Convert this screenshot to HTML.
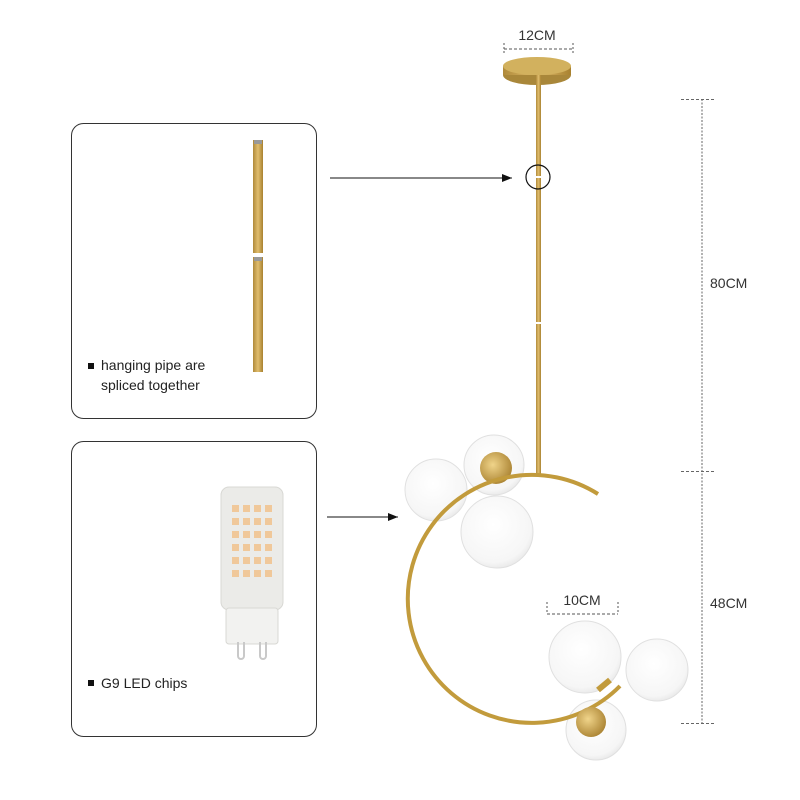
<!DOCTYPE html>
<html><head><style>
html,body{margin:0;padding:0;background:#fff;width:800px;height:800px;overflow:hidden}
text{font-family:"Liberation Sans",sans-serif}
</style></head><body>
<svg width="800" height="800" viewBox="0 0 800 800" xmlns="http://www.w3.org/2000/svg">
<defs>
<linearGradient id="brass" x1="0" x2="1"><stop offset="0" stop-color="#b08a3a"/><stop offset="0.5" stop-color="#e0bd6e"/><stop offset="1" stop-color="#a8812f"/></linearGradient>
<radialGradient id="glob" cx="0.45" cy="0.4" r="0.65"><stop offset="0" stop-color="#ffffff"/><stop offset="0.8" stop-color="#f6f6f6"/><stop offset="1" stop-color="#e4e4e4"/></radialGradient>
<radialGradient id="cup" cx="0.4" cy="0.4" r="0.7"><stop offset="0" stop-color="#f0d48a"/><stop offset="1" stop-color="#a57d2c"/></radialGradient>
<marker id="ar" markerWidth="10" markerHeight="8" refX="10" refY="4" orient="auto"><path d="M0,0 L10,4 L0,8 z" fill="#111"/></marker>
</defs>
<rect x="71.5" y="123.5" width="245" height="295" rx="12" fill="#fff" stroke="#333" stroke-width="1"/>
<rect x="71.5" y="441.5" width="245" height="295" rx="12" fill="#fff" stroke="#333" stroke-width="1"/>
<rect x="253" y="140" width="10" height="113" fill="url(#brass)"/>
<rect x="254" y="140" width="8" height="4" fill="#999"/>
<rect x="253" y="257" width="10" height="115" fill="url(#brass)"/>
<rect x="254" y="257" width="8" height="4" fill="#999"/>
<rect x="88" y="363" width="6" height="6" fill="#111"/>
<text x="101" y="370" font-size="14" fill="#222">hanging pipe are</text>
<text x="101" y="390" font-size="14" fill="#222">spliced together</text>
<rect x="221" y="487" width="62" height="123" rx="8" fill="#ebebe8" stroke="#d8d8d4"/>
<g fill="#f0c89a">
<rect x="232" y="505" width="7" height="7"/><rect x="243" y="505" width="7" height="7"/><rect x="254" y="505" width="7" height="7"/><rect x="265" y="505" width="7" height="7"/>
<rect x="232" y="518" width="7" height="7"/><rect x="243" y="518" width="7" height="7"/><rect x="254" y="518" width="7" height="7"/><rect x="265" y="518" width="7" height="7"/>
<rect x="232" y="531" width="7" height="7"/><rect x="243" y="531" width="7" height="7"/><rect x="254" y="531" width="7" height="7"/><rect x="265" y="531" width="7" height="7"/>
<rect x="232" y="544" width="7" height="7"/><rect x="243" y="544" width="7" height="7"/><rect x="254" y="544" width="7" height="7"/><rect x="265" y="544" width="7" height="7"/>
<rect x="232" y="557" width="7" height="7"/><rect x="243" y="557" width="7" height="7"/><rect x="254" y="557" width="7" height="7"/><rect x="265" y="557" width="7" height="7"/>
<rect x="232" y="570" width="7" height="7"/><rect x="243" y="570" width="7" height="7"/><rect x="254" y="570" width="7" height="7"/><rect x="265" y="570" width="7" height="7"/>
</g>
<rect x="226" y="608" width="52" height="36" rx="3" fill="#f2f2f0" stroke="#d8d8d4"/>
<path d="M238,642 v14 a3,3 0 0 0 6,0 v-14 M260,642 v14 a3,3 0 0 0 6,0 v-14" fill="none" stroke="#c9c9c9" stroke-width="2"/>
<rect x="88" y="680" width="6" height="6" fill="#111"/>
<text x="101" y="688" font-size="14" fill="#222">G9 LED chips</text>
<line x1="330" y1="178" x2="512" y2="178" stroke="#111" stroke-width="1" marker-end="url(#ar)"/>
<line x1="327" y1="517" x2="398" y2="517" stroke="#111" stroke-width="1" marker-end="url(#ar)"/>
<text x="537" y="40" font-size="14" fill="#333" text-anchor="middle">12CM</text>
<path d="M504,43 v12 M573,43 v12" stroke="#555" stroke-dasharray="2,2"/>
<line x1="504" y1="49" x2="573" y2="49" stroke="#555" stroke-dasharray="3,2"/>
<ellipse cx="537" cy="75" rx="34" ry="10" fill="#a9873a"/>
<rect x="503" y="66" width="68" height="9" fill="url(#brass)"/>
<ellipse cx="537" cy="66" rx="34" ry="9" fill="#d2b15e"/>
<rect x="536" y="75" width="5" height="400" fill="url(#brass)"/>
<rect x="534" y="322" width="9" height="2" fill="#fff"/>
<circle cx="538" cy="177" r="12" fill="none" stroke="#111" stroke-width="1.2"/>
<rect x="532" y="176" width="10" height="2" fill="#fff"/>
<!-- upper globes -->
<circle cx="494" cy="465" r="30" fill="url(#glob)" stroke="#e0e0e0"/>
<circle cx="496" cy="468" r="16" fill="url(#cup)"/>
<circle cx="436" cy="490" r="31" fill="url(#glob)" stroke="#e0e0e0"/>
<circle cx="596" cy="730" r="30" fill="url(#glob)" stroke="#e0e0e0"/>
<!-- ring -->
<path d="M598,494 A124,124 0 1 0 620,686" fill="none" stroke="#c29b3c" stroke-width="4"/>
<circle cx="497" cy="532" r="36" fill="url(#glob)" stroke="#e0e0e0"/>
<circle cx="591" cy="722" r="15" fill="url(#cup)"/>
<circle cx="585" cy="657" r="36" fill="url(#glob)" stroke="#e0e0e0"/>
<circle cx="657" cy="670" r="31" fill="url(#glob)" stroke="#e0e0e0"/>
<path d="M598,690 l12,-10" stroke="#c29b3c" stroke-width="6"/>
<text x="582" y="605" font-size="14" fill="#333" text-anchor="middle">10CM</text>
<path d="M547,602 v12 M618,602 v12" stroke="#555" stroke-dasharray="2,2"/>
<line x1="547" y1="614" x2="618" y2="614" stroke="#555" stroke-dasharray="3,2"/>
<line x1="702" y1="99" x2="702" y2="723" stroke="#666" stroke-dasharray="2,1.5"/>
<path d="M681,99.5 h33 M681,471.5 h33 M681,723.5 h33" stroke="#666" stroke-dasharray="3,2"/>
<text x="710" y="288" font-size="14" fill="#333">80CM</text>
<text x="710" y="608" font-size="14" fill="#333">48CM</text>
</svg>
</body></html>
